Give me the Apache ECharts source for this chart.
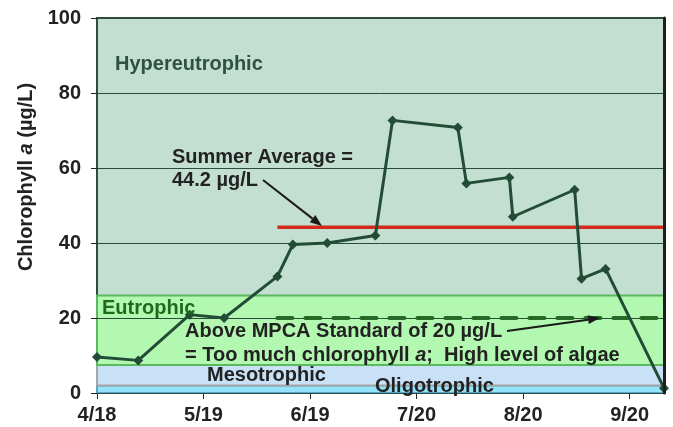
<!DOCTYPE html>
<html>
<head>
<meta charset="utf-8">
<script src="https://cdn.jsdelivr.net/npm/echarts@6/dist/echarts.min.js"></script>
<style>
  html, body { margin: 0; padding: 0; background: #fff; }
  #chart { width: 673px; height: 427px; }
</style>
</head>
<body>
<div id="chart"></div>
<script>
// sample dates as days after 4/18
var sampleDay = [0, 12, 27, 37, 52.5, 57, 67, 81, 86, 105, 107.5, 120, 121, 139, 141, 148, 165];
var chlorophyll = [9.6, 8.7, 20.9, 20.0, 31.1, 39.6, 40.0, 42.0, 72.7, 70.8, 55.9, 57.5, 47.0, 54.2, 30.5, 33.1, 1.3];

var tickDay = [0, 31, 62, 93, 124, 155];
var tickLabel = ["4/18", "5/19", "6/19", "7/20", "8/20", "9/20"];
var dayMax = 165;

// trophic bands (µg/L)
var bandName = ["Oligotrophic", "Mesotrophic", "Eutrophic"];
var bandLow = [0, 2, 7.5];
var bandHigh = [2, 7.5, 26];

var summerAvg = 44.2;
var mpcaStandard = 20;
var refLineStart = 52.5;

var FONT = "'Liberation Sans', Arial, sans-serif";
var bandStyle = {
  Oligotrophic: { color: "#94e3fa", borderColor: "#5aa6cc", borderWidth: 2 },
  Mesotrophic: { color: "#c8e1f7", borderColor: "#a6a6a6", borderWidth: 2 },
  Eutrophic: { color: "#b2f8b0", borderColor: "#5cb85c", borderWidth: 2 }
};

var chart = echarts.init(document.getElementById("chart"));

function txt(x, y, text, color, extra) {
  var style = {
    text: text,
    x: 0, y: 0,
    fill: color || "#222",
    font: "bold 20px " + FONT,
    textVerticalAlign: "middle"
  };
  if (extra) for (var k in extra) style[k] = extra[k];
  return { type: "text", x: x, y: y, z: 20, style: style, silent: true };
}

function arrow(x1, y1, x2, y2) {
  var a = Math.atan2(y2 - y1, x2 - x1);
  var len = 12, half = 4.5;
  var bx = x2 - len * Math.cos(a), by = y2 - len * Math.sin(a);
  return [
    { type: "line", z: 20, shape: { x1: x1, y1: y1, x2: bx, y2: by },
      style: { stroke: "#1a1a1a", lineWidth: 2 } },
    { type: "polygon", z: 20, shape: { points: [
        [x2, y2],
        [bx + half * Math.sin(a), by - half * Math.cos(a)],
        [bx - half * Math.sin(a), by + half * Math.cos(a)]
      ] }, style: { fill: "#1a1a1a" } }
  ];
}

var rich = {
  b: { font: "bold 20px " + FONT, fill: "#222", color: "#222" },
  i: { font: "italic bold 20px " + FONT, fill: "#222", color: "#222" }
};

var graphics = [
  txt(115, 64, "Hypereutrophic", "#2e5140"),
  txt(172, 157, "Summer Average ="),
  txt(172, 180, "44.2 µg/L"),
  txt(102, 308, "Eutrophic", "#1e6b1e"),
  txt(185, 331, "Above MPCA Standard of 20 µg/L"),
  txt(185, 355, "{b|= Too much chlorophyll }{i|a}{b|;  High level of algae}", null, { rich: rich }),
  txt(207, 375, "Mesotrophic"),
  txt(375, 386, "Oligotrophic"),
  {
    type: "text", x: 26, y: 177, rotation: Math.PI / 2, z: 20, silent: true,
    style: {
      text: "{b|Chlorophyll }{i|a}{b| (µg/L)}",
      rich: rich,
      textAlign: "center", textVerticalAlign: "middle"
    }
  }
].concat(arrow(263, 180, 322, 226)).concat(arrow(507, 331, 600, 318));

var bandAreas = bandName.map(function (n, i) {
  return [
    { yAxis: bandLow[i], xAxis: 0, itemStyle: bandStyle[n] },
    { yAxis: bandHigh[i], xAxis: dayMax }
  ];
});

chart.setOption({
  animation: false,
  grid: {
    left: 97, right: 9, top: 18, bottom: 34,
    show: true,
    backgroundColor: "#c3dfd1",
    borderColor: "#2f4c3d",
    borderWidth: 2
  },
  xAxis: {
    type: "value",
    min: 0, max: dayMax, interval: 31,
    axisLine: { show: true, onZero: false, lineStyle: { color: "#555", width: 1 } },
    axisTick: { show: true, length: 6, customValues: tickDay, lineStyle: { color: "#222" } },
    splitLine: { show: false },
    axisLabel: {
      customValues: tickDay,
      margin: 12,
      color: "#222",
      fontFamily: FONT, fontWeight: "bold", fontSize: 20,
      formatter: function (v) {
        var i = tickDay.indexOf(v);
        return i >= 0 ? tickLabel[i] : "";
      }
    }
  },
  yAxis: [{
    type: "value",
    min: 0, max: 100, interval: 20,
    z: 3,
    axisLine: { show: false },
    axisTick: { show: true, length: 6, lineStyle: { color: "#222" } },
    splitLine: { show: true, lineStyle: { color: "#2c4a3a", width: 1 } },
    axisLabel: {
      margin: 16,
      color: "#222",
      fontFamily: FONT, fontWeight: "bold", fontSize: 20
    }
  }, {
    type: "value",
    position: "right",
    min: 0, max: 100,
    z: 6,
    axisLine: { show: true, lineStyle: { color: "#1e1e1e", width: 3 } },
    axisTick: { show: false },
    axisLabel: { show: false },
    splitLine: { show: false }
  }],
  graphic: graphics,
  series: [
    {
      name: "bands",
      type: "line",
      data: [],
      z: 1,
      silent: true,
      markArea: { silent: true, label: { show: false }, data: bandAreas }
    },
    {
      name: "Summer Average",
      type: "line",
      z: 4,
      symbol: "none",
      lineStyle: { color: "#d22b1c", width: 3.5 },
      data: [[refLineStart, summerAvg], [dayMax, summerAvg]]
    },
    {
      name: "MPCA Standard",
      type: "line",
      z: 4,
      symbol: "none",
      lineStyle: { color: "#256b25", width: 4, type: [15, 13], cap: "round" },
      data: [[refLineStart, mpcaStandard], [dayMax, mpcaStandard]]
    },
    {
      name: "Chlorophyll a",
      type: "line",
      z: 5,
      symbol: "diamond",
      symbolSize: 10,
      itemStyle: { color: "#234c36" },
      lineStyle: { color: "#234c36", width: 3 },
      data: sampleDay.map(function (d, i) { return [d, chlorophyll[i]]; })
    }
  ]
});
</script>
</body>
</html>
